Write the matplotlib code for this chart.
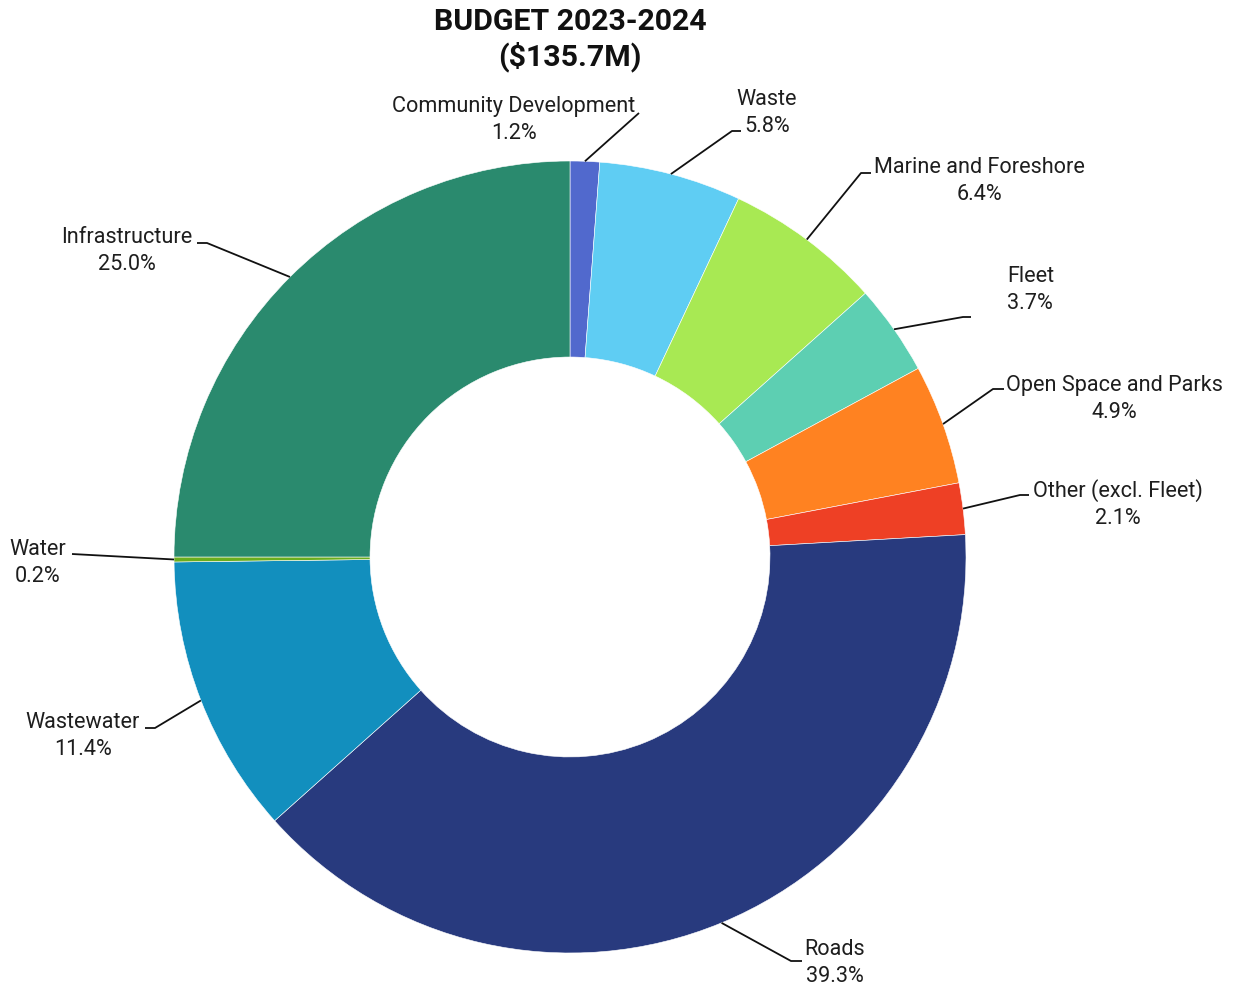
import matplotlib
matplotlib.use("Agg")
from matplotlib import pyplot as plt
import numpy as np

# budget shares, clockwise from 12 o'clock
categories = ["Community Development", "Waste", "Marine and Foreshore", "Fleet",
              "Open Space and Parks", "Other (excl. Fleet)", "Roads", "Wastewater",
              "Water", "Infrastructure"]
shares = [1.2, 5.8, 6.4, 3.7, 4.9, 2.1, 39.3, 11.4, 0.2, 25.0]
colors = ["#5169CD", "#5FCDF3", "#A8E953", "#5DCFB2", "#FF8221",
          "#EE4025", "#283A7E", "#128FBE", "#6AAD1E", "#2A8A6E"]
title = "BUDGET 2023-2024\n($135.7M)"

# label layout in pixels: elbow x, elbow y, end of horizontal tick x, text x, text y, align
layout = [
    (639, 113, 639, 514, 120, "center"),
    (732, 131, 741, 767, 113, "center"),
    (861, 173, 871, 979, 181, "center"),
    (963, 317, 971, 1007, 290, "left"),
    (993, 389, 1004, 1114, 399, "center"),
    (1020, 495, 1029, 1118, 504, "center"),
    (791, 961, 802, 835, 963, "center"),
    (155, 728, 145, 83, 736, "center"),
    (72, 554, 72, 38, 563, "center"),
    (207, 243, 197, 127, 251, "center"),
]

W, H = 1238, 989
CX, CY, R = 570, 557, 396


def px(x, y):
    return (x - CX) / R, (CY - y) / R


plt.rcParams["font.family"] = ["Roboto", "DejaVu Sans"]
fig = plt.figure(figsize=(W / 100, H / 100), dpi=100)
ax = fig.add_axes([0, 0, 1, 1])

wedges, _ = ax.pie(shares, colors=colors, startangle=90, counterclock=False,
                   radius=1, wedgeprops=dict(width=0.495, edgecolor="white", linewidth=0.4))

for w, cat, val, lay in zip(wedges, categories, shares, layout):
    ang = np.deg2rad((w.theta1 + w.theta2) / 2)
    x0, y0 = np.cos(ang), np.sin(ang)
    ex, ey = px(lay[0], lay[1])
    hx, _ = px(lay[2], lay[1])
    ax.plot([x0, ex, hx], [y0, ey, ey], color="#111111", lw=1.3, solid_capstyle="butt")
    tx, ty = px(lay[3], lay[4])
    ax.text(tx, ty, "%s\n%.1f%%" % (cat, val), ha=lay[5], va="center",
            multialignment=lay[5], fontsize=15.6, color="#1e1e1e", linespacing=1.36)

tx, ty = px(570, 40)
ax.text(tx, ty, title, ha="center", va="center", fontsize=21.8, fontweight="bold",
        color="#111111", linespacing=1.2)

ax.set_xlim(-CX / R, (W - CX) / R)
ax.set_ylim((CY - H) / R, CY / R)
ax.set_aspect("equal")
ax.axis("off")

fig.savefig("out.png", dpi=100, facecolor="white")
